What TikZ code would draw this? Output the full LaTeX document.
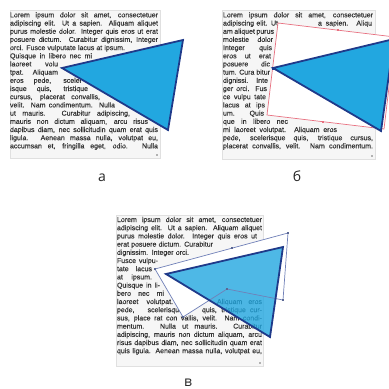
\documentclass[tikz,border=0pt]{standalone}
\usepackage{fontspec}
\setmainfont{Liberation Sans}
\newfontfamily\labfont{Open Sans}
\newfontfamily\txtfont[FakeBold=0.35]{Liberation Sans}
\definecolor{tri}{HTML}{22A7E0}
\definecolor{triedge}{HTML}{1F3A8A}
\definecolor{txtc}{HTML}{333333}
\definecolor{boxbg}{HTML}{F6F6F6}
\definecolor{wrapred}{HTML}{E87080}
\definecolor{wrapblue}{HTML}{7080B8}
\newcommand\tline[4]{\node[txt] at (#1,#2) {\makebox[#3pt][s]{#4}};}
\begin{document}
\begin{tikzpicture}[x=1pt,y=-1pt,
  txt/.style={anchor=base west, inner sep=0pt, outer sep=0pt, font=\txtfont\fontsize{7}{8}\selectfont, text=txtc},
  textbox/.style={fill=boxbg, draw=black!12, line width=0.6pt},
  trishape/.style={fill=tri, draw=triedge, line width=1.8pt, line join=miter},
  lab/.style={font=\labfont\fontsize{14}{16}\selectfont, text=black!85, inner sep=0pt, anchor=base},
  marker/.style={fill=black!30}]
\useasboundingbox (0,0) rectangle (389,389);
\clip (0,0) rectangle (389,389);
\fill[white] (0,0) rectangle (389,389);

% ===================== panel a =====================
\draw[textbox] (10,10) rectangle (160,158);
\fill[marker] (156,154) rectangle (158,156);
\tline{10}{17.3}{148}{Lorem ipsum dolor sit amet, consectetuer}
\tline{10}{25.5}{148}{adipiscing elit. Ut a sapien. Aliquam aliquet}
\tline{10}{33.7}{148}{purus molestie dolor. Integer quis eros ut erat}
\tline{10}{41.9}{148}{posuere dictum. Curabitur dignissim, Integer}
\tline{10}{50.1}{115}{orci. Fusce vulputate lacus at ipsum.}
\tline{10}{58.3}{82}{Quisque in libero nec mi}
\tline{10}{66.4}{48}{laoreet volu}
\tline{10}{74.6}{48}{tpat. Aliquam}
\tline{10}{82.8}{72}{eros pede, sceler}
\tline{10}{91.0}{78}{isque quis, tristique}
\tline{10}{99.2}{90}{cursus, placerat convallis,}
\tline{10}{107.4}{105}{velit. Nam condimentum. Nulla}
\tline{10}{115.6}{120}{ut mauris. Curabitur adipiscing,}
\tline{10}{123.8}{138}{mauris non dictum aliquam, arcu risus}
\tline{10}{132.0}{148}{dapibus diam, nec sollicitudin quam erat quis}
\tline{10}{140.2}{148}{ligula. Aenean massa nulla, volutpat eu,}
\tline{10}{148.3}{148}{accumsan et, fringilla eget, odio. Nulla}
\draw[trishape] (62,68) -- (183,40) -- (168,130) -- cycle;
\node[lab] (la) at (102,181) {а};

% ===================== panel b =====================
\draw[textbox] (222,10) rectangle (375,159);
\fill[marker] (371,155) rectangle (373,157);
\tline{223}{17.3}{150}{Lorem ipsum dolor sit amet, consectetuer}
\tline{223}{25.5}{55}{adipiscing elit. Ut}
\tline{318}{25.5}{54}{a sapien. Aliqu}
\tline{223}{33.7}{51}{am aliquet purus}
\tline{223}{41.9}{50}{molestie dolor}
\tline{223}{50.1}{49}{Integer quis}
\tline{223}{58.3}{48}{eros ut erat}
\tline{223}{66.4}{47}{posuere dic}
\tline{223}{74.6}{47}{tum. Cura bitur}
\tline{223}{82.8}{45}{dignissi. Inte}
\tline{223}{91.0}{44}{ger orci. Fus}
\tline{223}{99.2}{43}{ce vulpu tate}
\tline{223}{107.4}{42}{lacus at ips}
\tline{223}{115.6}{41}{um. Quis}
\tline{223}{123.8}{65}{que in libero nec}
\tline{223}{132.0}{114}{mi laoreet volutpat. Aliquam eros}
\tline{223}{140.2}{150}{pede, scelerisque quis, tristique cursus,}
\tline{223}{148.3}{150}{placerat convallis, velit. Nam condimentum.}
\draw[wrapred, fill=white, line width=0.7pt] (278,23) -- (395,37) -- (384,129) -- (267,115) -- cycle;
\fill[wrapred] (337,29) rectangle (339,31);
\fill[wrapred] (322,121) rectangle (324,123);
\draw[trishape] (273,68) -- (394,39) -- (381,131) -- cycle;
\fill[triedge] (271.5,66.5) rectangle (274.5,69.5);
\node[lab] (lb) at (297,181) {б};

% ===================== panel c =====================
\draw[textbox] (116,215) rectangle (263,366);
\fill[marker] (259,362) rectangle (261,364);
\tline{117}{222.0}{145}{Lorem ipsum dolor sit amet, consectetuer}
\tline{117}{230.2}{145}{adipiscing elit. Ut a sapien. Aliquam aliquet}
\tline{117}{238.4}{140}{purus molestie dolor. Integer quis eros ut}
\tline{117}{246.6}{96}{erat posuere dictum. Curabitur}
\tline{117}{254.8}{72}{dignissim. Integer orci.}
\tline{117}{263.0}{41}{Fusce vulpu-}
\tline{117}{271.2}{35}{tate lacus}
\tline{117}{279.4}{35}{at ipsum.}
\tline{117}{287.6}{43}{Quisque in li-}
\tline{117}{295.8}{47}{bero nec mi}
\tline{117}{304.0}{56}{laoreet volutpat.}
\tline{217}{304.0}{45}{Aliquam eros}
\tline{117}{312.2}{66}{pede, scelerisque}
\tline{202}{312.2}{60}{quis, tristique cur-}
\tline{117}{320.4}{145}{sus, place rat con vallis, velit. Nam condi-}
\tline{117}{328.6}{145}{mentum. Nulla ut mauris. Curabitur}
\tline{117}{336.8}{145}{adipiscing, mauris non dictum aliquam, arcu}
\tline{117}{345.0}{145}{risus dapibus diam, nec sollicitudin quam erat}
\tline{117}{353.2}{145}{quis ligula. Aenean massa nulla, volutpat eu,}
\fill[white] (155,269) -- (288,233) -- (283,300) -- (227,289) -- (183,317) -- cycle;
\fill[tri, fill opacity=0.8] (166,274) -- (283,247) -- (270,337) -- cycle;
\draw[wrapblue, line width=0.7pt] (155,269) -- (288,233) -- (283,300) -- (227,289) -- (183,317) -- cycle;
\draw[triedge, line width=1.8pt, line join=miter] (166,274) -- (283,247) -- (270,337) -- cycle;
\foreach \p in {(155,269),(288,233),(283,300),(227,289),(183,317),(232,248)}
  \fill[wrapblue!80!black] \p ++(-1.2,-1.2) rectangle ++(2.4,2.4);
\node[lab] (lc) at (188,386) {в};
\end{tikzpicture}
\end{document}
